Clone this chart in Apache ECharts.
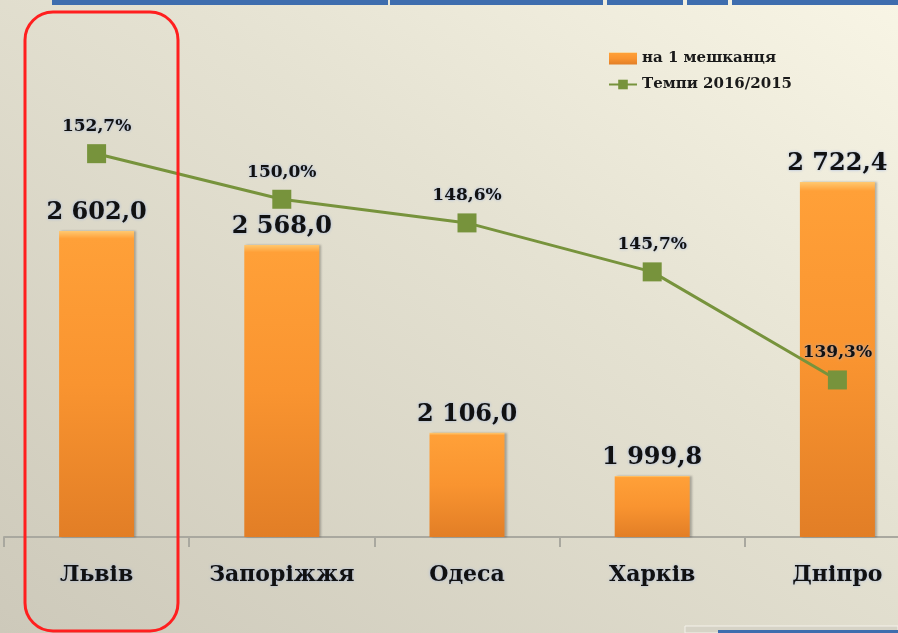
<!DOCTYPE html>
<html>
<head>
<meta charset="utf-8">
<script src="https://cdn.jsdelivr.net/npm/echarts@6/dist/echarts.min.js"></script>
<style>
  html, body { margin: 0; padding: 0; }
  body {
    width: 898px; height: 633px; overflow: hidden;
    background: linear-gradient(215deg, #F8F5E5 0%, #E5E2D2 40%, #CDC9BA 100%);
  }
  #chart { width: 898px; height: 633px; }
</style>
</head>
<body>
<div id="chart"></div>
<script>
// міста
const cities = ['Львів', 'Запоріжжя', 'Одеса', 'Харків', 'Дніпро'];
// на 1 мешканця
const perResident = [2602.0, 2568.0, 2106.0, 1999.8, 2722.4];
// темпи 2016/2015, %
const growthRate = [152.7, 150.0, 148.6, 145.7, 139.3];

const serif = '"DejaVu Serif", "Liberation Serif", serif';

// 2602.0 -> "2 602,0"
function fmtNum(v) {
  const parts = v.toFixed(1).split('.');
  return parts[0].replace(/\B(?=(\d{3})+(?!\d))/g, ' ') + ',' + parts[1];
}

const myChart = echarts.init(document.getElementById('chart'));

const option = {
  backgroundColor: 'transparent',
  animation: false,
  legend: {
    orient: 'vertical',
    left: 603,
    top: 46,
    itemGap: 11,
    itemWidth: 28,
    itemHeight: 12,
    textStyle: { fontFamily: serif, fontWeight: 'bold', fontSize: 15, color: '#1a1a1a' },
    data: [
      { name: 'на 1 мешканця', icon: 'rect' },
      { name: 'Темпи 2016/2015' }
    ]
  },
  grid: { left: 4, width: 926, top: 0, bottom: 96, outerBoundsMode: 'none', containLabel: false },
  xAxis: {
    type: 'category',
    data: cities,
    axisLine: { lineStyle: { color: '#A9A89F', width: 2 } },
    axisTick: { show: true, interval: 0, length: 10, lineStyle: { color: '#A9A89F', width: 2 } },
    axisLabel: {
      interval: 0,
      margin: 27,
      fontFamily: serif, fontWeight: 'bold', fontSize: 22, color: '#111',
      textShadowColor: 'rgba(150,175,230,0.8)', textShadowBlur: 3
    }
  },
  yAxis: [
    { type: 'value', min: 1850, max: 3170, show: false, splitLine: { show: false } },
    { type: 'value', min: 130, max: 161.8, show: false, splitLine: { show: false } }
  ],
  series: [
    {
      name: 'на 1 мешканця',
      type: 'bar',
      data: perResident,
      barWidth: 75,
      itemStyle: {
        color: new echarts.graphic.LinearGradient(0, 0, 0, 1, [
          { offset: 0, color: '#FFC870' },
          { offset: 0.025, color: '#FFA038' },
          { offset: 0.5, color: '#F99430' },
          { offset: 1, color: '#E27E26' }
        ]),
        shadowColor: 'rgba(0,0,0,0.25)',
        shadowOffsetX: 2,
        shadowBlur: 2
      },
      label: {
        show: true,
        position: 'top',
        distance: 6,
        formatter: p => fmtNum(p.value),
        fontFamily: serif, fontWeight: 'bold', fontSize: 24, color: '#111',
        textShadowColor: 'rgba(150,175,230,0.9)', textShadowBlur: 3
      }
    },
    {
      name: 'Темпи 2016/2015',
      type: 'line',
      yAxisIndex: 1,
      data: growthRate,
      symbol: 'rect',
      symbolSize: 19,
      lineStyle: { color: '#77933C', width: 3 },
      itemStyle: { color: '#77933C' },
      label: {
        show: true,
        position: 'top',
        distance: 9,
        formatter: p => p.value.toFixed(1).replace('.', ',') + '%',
        fontFamily: serif, fontWeight: 'bold', fontSize: 17, color: '#111',
        textShadowColor: 'rgba(150,175,230,0.9)', textShadowBlur: 3
      },
      z: 3
    }
  ],
  graphic: [
    // синя смуга зверху
    { type: 'rect', shape: { x: 52, y: 0, width: 336, height: 5 }, style: { fill: '#3E6DAE' } },
    { type: 'rect', shape: { x: 390, y: 0, width: 213, height: 5 }, style: { fill: '#3E6DAE' } },
    { type: 'rect', shape: { x: 607, y: 0, width: 76, height: 5 }, style: { fill: '#3E6DAE' } },
    { type: 'rect', shape: { x: 687, y: 0, width: 41, height: 5 }, style: { fill: '#3E6DAE' } },
    { type: 'rect', shape: { x: 732, y: 0, width: 166, height: 5 }, style: { fill: '#3E6DAE' } },
    // блок внизу справа
    { type: 'rect', shape: { x: 685, y: 626, width: 213, height: 7 }, style: { fill: '#D6D3C6', stroke: '#F4F2EA', lineWidth: 1 } },
    { type: 'rect', shape: { x: 718, y: 630, width: 180, height: 3 }, style: { fill: '#3E6DAE' } },
    // червона рамка навколо Львова
    {
      type: 'rect',
      shape: { x: 25, y: 12, width: 153, height: 619, r: 28 },
      style: { fill: 'none', stroke: '#FF1F1F', lineWidth: 3 },
      z: 10
    }
  ]
};

myChart.setOption(option);
</script>
</body>
</html>
